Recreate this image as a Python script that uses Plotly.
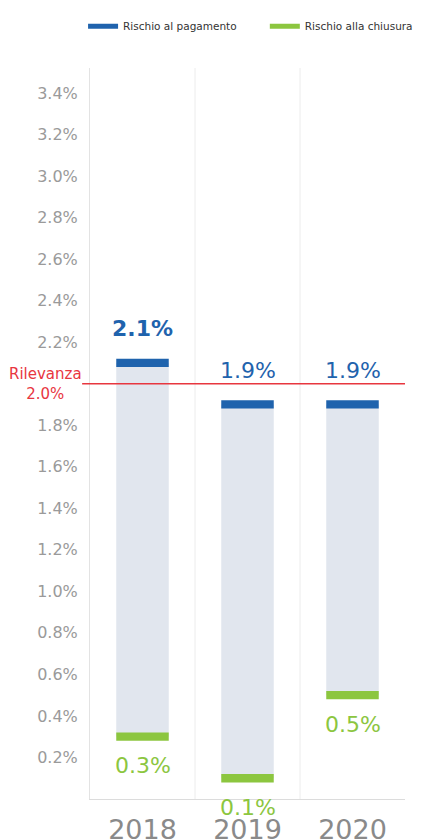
import plotly.graph_objects as go

years = ["2018", "2019", "2020"]
pagamento = [2.1, 1.9, 1.9]      # Rischio al pagamento (%)
chiusura = [0.3, 0.1, 0.5]       # Rischio alla chiusura (%)
rilevanza = 2.0
tick_vals = [0.2, 0.4, 0.6, 0.8, 1.0, 1.2, 1.4, 1.6, 1.8, 2.2, 2.4, 2.6, 2.8, 3.0, 3.2, 3.4]
tick_text = ["0.2%", "0.4%", "0.6%", "0.8%", "1.0%", "1.2%", "1.4%", "1.6%", "1.8%",
             "2.2%", "2.4%", "2.6%", "2.8%", "3.0%", "3.2%", "3.4%"]

FONT = "DejaVu Sans"
BLUE = "#1f63ad"
GREEN = "#8cc63f"
GREY = "#e1e6ee"
RED = "#e8363f"
band = 0.04

fig = go.Figure()
fig.add_trace(go.Bar(x=years, y=[p - c for p, c in zip(pagamento, chiusura)], base=chiusura,
                     marker=dict(color=GREY, line=dict(width=0)), width=0.5,
                     showlegend=False, hoverinfo="skip"))
fig.add_trace(go.Bar(x=years, y=[band] * 3, base=[p - band / 2 for p in pagamento],
                     marker=dict(color=BLUE, line=dict(width=0)), width=0.5, showlegend=False))
fig.add_trace(go.Bar(x=years, y=[band] * 3, base=[c - band / 2 for c in chiusura],
                     marker=dict(color=GREEN, line=dict(width=0)), width=0.5, showlegend=False))

# legend entries
fig.add_trace(go.Scatter(x=[years[0]], y=[None], mode="lines", line=dict(color=BLUE, width=5),
                         name="Rischio al pagamento", legend="legend"))
fig.add_trace(go.Scatter(x=[years[0]], y=[None], mode="lines", line=dict(color=GREEN, width=5),
                         name="Rischio alla chiusura", legend="legend2"))

for i, p in enumerate(pagamento):
    txt = f"{p:.1f}%"
    if p > rilevanza:
        txt = f"<b>{txt}</b>"
    fig.add_annotation(x=i, y=p, text=txt, showarrow=False, yshift=34,
                       font=dict(color=BLUE, size=22, family=FONT))
for i, c in enumerate(chiusura):
    fig.add_annotation(x=i, y=c, text=f"{c:.1f}%", showarrow=False, yshift=-29,
                       font=dict(color=GREEN, size=22, family=FONT))

# relevance line + label
fig.add_shape(type="line", xref="paper", yref="y", x0=-0.025, x1=1, y0=rilevanza, y1=rilevanza,
              line=dict(color=RED, width=1.5))
fig.add_annotation(xref="paper", yref="y", x=-0.018, y=rilevanza, xanchor="right",
                   text="Rilevanza<br>2.0%", showarrow=False, align="center",
                   font=dict(color=RED, size=15, family=FONT))

# category separators
for xb in [0.5, 1.5]:
    fig.add_shape(type="line", xref="x", yref="paper", x0=xb, x1=xb, y0=0, y1=1,
                  line=dict(color="#ececec", width=1), layer="below")

leg_common = dict(orientation="h", yanchor="middle", y=1.057, xanchor="left",
                  font=dict(size=10.5, color="#333", family=FONT), itemwidth=30,
                  bgcolor="rgba(0,0,0,0)")
fig.update_layout(
    width=430, height=839, barmode="overlay",
    margin=dict(l=90, r=18, t=65, b=40),
    plot_bgcolor="white", paper_bgcolor="white",
    font=dict(family=FONT, color="#555"),
    legend=dict(x=-0.022, **leg_common),
    legend2=dict(x=0.555, **leg_common),
    xaxis=dict(type="category", showgrid=False, showline=True, linecolor="#dcdcdc", linewidth=1,
               tickfont=dict(size=27, color="#8a8a8a"), ticks="", range=[-0.5, 2.5],
               ticklabelstandoff=7, automargin=False),
    yaxis=dict(range=[0, 3.52], tickvals=tick_vals, ticktext=tick_text, showgrid=False,
               zeroline=False, showline=True, linecolor="#e3e3e3", linewidth=1,
               tickfont=dict(size=16, color="#9a9a9a"), ticks="", ticklabelstandoff=8,
               automargin=False),
)

fig.write_html("out.html")
